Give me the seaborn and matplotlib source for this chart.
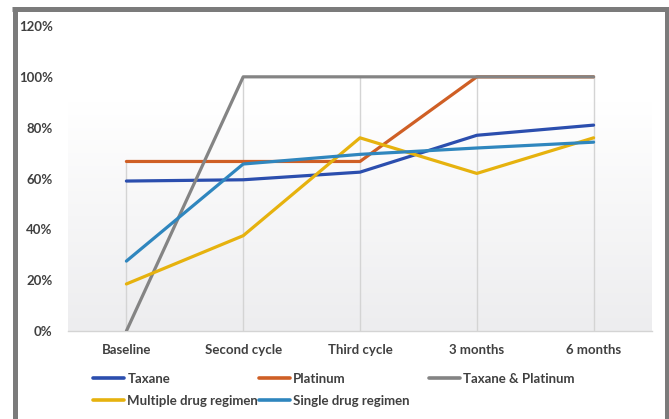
import matplotlib
matplotlib.use("Agg")
import matplotlib.pyplot as plt
from matplotlib.lines import Line2D
from matplotlib.colors import LinearSegmentedColormap
import numpy as np
import pandas as pd
import seaborn as sns

categories = ["Baseline", "Second cycle", "Third cycle", "3 months", "6 months"]
taxane = [59, 59.5, 62.5, 77, 81]
platinum = [66.7, 66.7, 66.7, 100, 100]
taxane_platinum = [0, 100, 100, 100, 100]
multiple_drug = [18.5, 37.5, 76, 62, 76]
single_drug = [27.5, 65.7, 69.5, 72, 74.3]
y_ticks = [0, 20, 40, 60, 80, 100, 120]

series_names = ["Taxane", "Platinum", "Taxane & Platinum",
                "Multiple drug regimen", "Single drug regimen"]
series_vals = [taxane, platinum, taxane_platinum, multiple_drug, single_drug]
colors = ["#2B4EAE", "#CF5F25", "#848484", "#E6B20E", "#2F86BE"]

rows = []
for name, vals in zip(series_names, series_vals):
    for i, (c, v) in enumerate(zip(categories, vals)):
        rows.append({"series": name, "x": i, "cat": c, "value": v})
df = pd.DataFrame(rows)

sns.set_theme(style="white")
plt.rcParams["font.family"] = ["Lato", "DejaVu Sans"]

W, H = 669, 419
fig = plt.figure(figsize=(6.69, 4.19), dpi=100)
ax = fig.add_axes([68 / W, (H - 331) / H, (652 - 68) / W, (331 - 26) / H])

# subtle background gradient (white at top, light gray at bottom)
grad = np.linspace(0, 1, 256).reshape(-1, 1)
cmap = LinearSegmentedColormap.from_list("g", ["#ffffff", "#ededef"])
ax.imshow(grad, extent=(-0.5, 4.5, 0, 90), aspect="auto", cmap=cmap,
          origin="upper", zorder=0, vmin=0, vmax=1)

# drop lines
maxvals = df.groupby("x")["value"].max()
ax.vlines(maxvals.index, 0, maxvals.values, color="#d4d4d4", lw=1.0, zorder=1)

sns.lineplot(data=df, x="x", y="value", hue="series", hue_order=series_names,
             palette=colors, lw=2.3, ax=ax, legend=False, zorder=3, sort=False)

ax.set_xlim(-0.5, 4.5)
ax.set_ylim(0, 120)
ax.set_xticks(range(len(categories)))
ax.set_xticklabels(categories)
ax.set_yticks(y_ticks)
ax.set_yticklabels([f"{t}%" for t in y_ticks])
ax.set_xlabel("")
ax.set_ylabel("")
for s in ["top", "right", "left"]:
    ax.spines[s].set_visible(False)
ax.spines["bottom"].set_color("#d4d4d4")
ax.spines["bottom"].set_linewidth(1.0)
ax.tick_params(axis="x", length=0, pad=9, labelsize=9.5, labelcolor="#404040")
ax.tick_params(axis="y", length=0, pad=11, labelsize=9.5, labelcolor="#404040")
for lab in ax.get_xticklabels() + ax.get_yticklabels():
    lab.set_fontweight("bold")

# legend: three columns placed like the original
col_groups = [[0, 3], [1, 4], [2]]
col_x = [93, 259, 429]
for grp, cx in zip(col_groups, col_x):
    handles = [Line2D([0], [0], color=colors[i], lw=2.6) for i in grp]
    labels = [series_names[i] for i in grp]
    leg = fig.legend(handles, labels, loc="upper left",
                     bbox_to_anchor=(cx / W, 1 - 372.5 / H), frameon=False,
                     borderpad=0, borderaxespad=0,
                     handlelength=2.35, handletextpad=0.25,
                     labelspacing=0.8, prop={"size": 9.5, "weight": "bold"})
    for t in leg.get_texts():
        t.set_color("#404040")

# outer frame
fc = "#7b7b7b"
fig.add_artist(Line2D([12 / W, 669 / W], [1 - 9.5 / H, 1 - 9.5 / H],
                      transform=fig.transFigure, color=fc, lw=3.6,
                      solid_capstyle="butt"))
fig.add_artist(Line2D([14.5 / W, 14.5 / W], [0, 1 - 7 / H],
                      transform=fig.transFigure, color=fc, lw=3.6,
                      solid_capstyle="butt"))
fig.add_artist(Line2D([667 / W, 667 / W], [0, 1 - 7 / H],
                      transform=fig.transFigure, color=fc, lw=3.6,
                      solid_capstyle="butt"))

fig.savefig("out.png", dpi=100)
